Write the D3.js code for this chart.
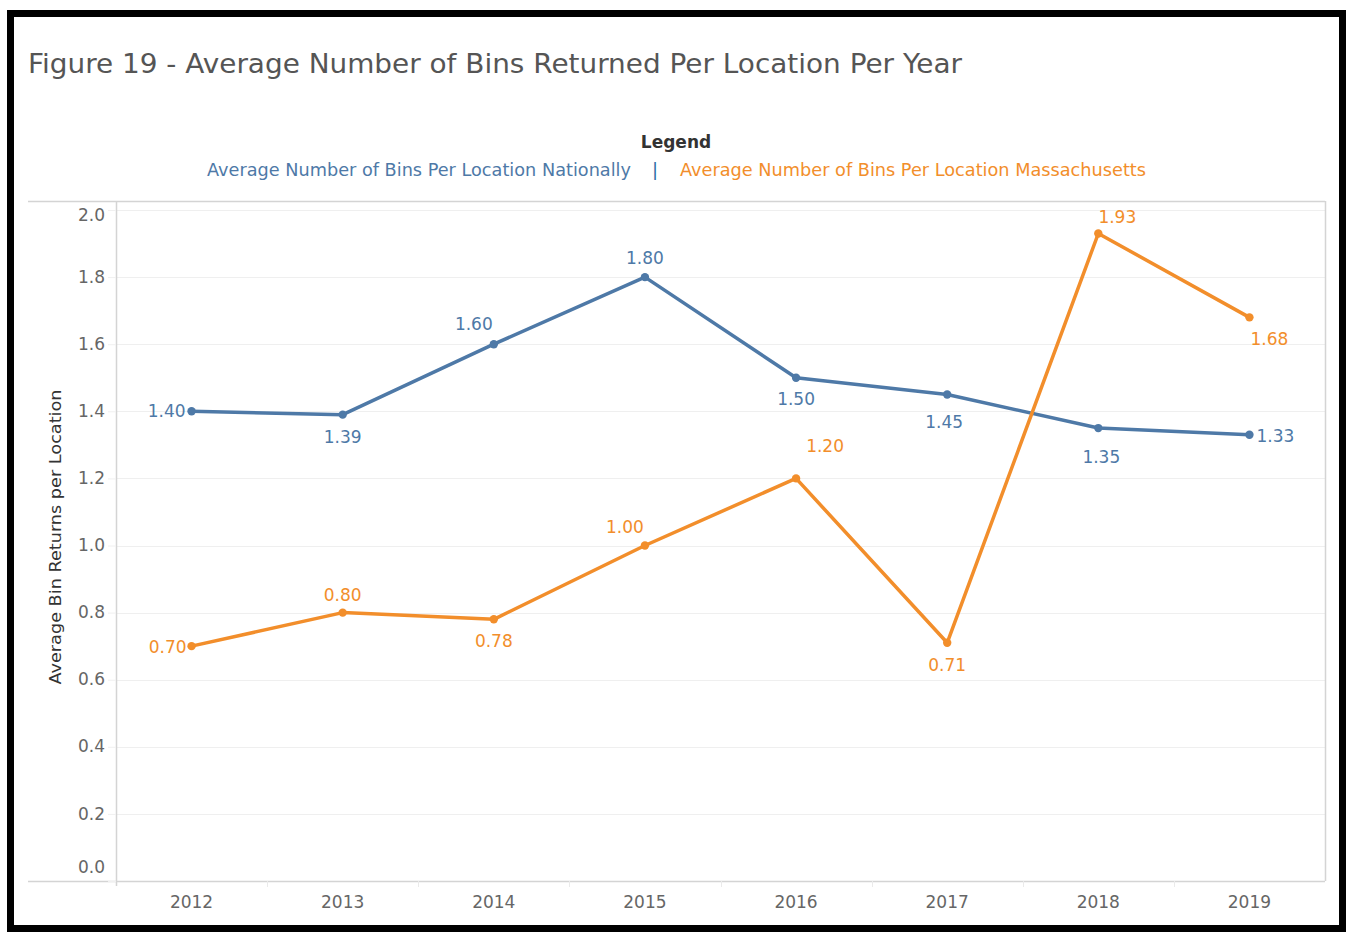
<!DOCTYPE html>
<html>
<head>
<meta charset="utf-8">
<script src="https://cdn.jsdelivr.net/npm/d3@7"></script>
<style>
	body { margin: 0; background: #fff; }
	svg text { font-family: "DejaVu Sans", "Noto Sans", sans-serif; }
</style>
</head>
<body>
<svg id="chart" width="1350" height="933"></svg>
<script>
// data
var years = ["2012", "2013", "2014", "2015", "2016", "2017", "2018", "2019"];
var national = [1.40, 1.39, 1.60, 1.80, 1.50, 1.45, 1.35, 1.33];
var massachusetts = [0.70, 0.80, 0.78, 1.00, 1.20, 0.71, 1.93, 1.68];
var yTicks = [0.0, 0.2, 0.4, 0.6, 0.8, 1.0, 1.2, 1.4, 1.6, 1.8, 2.0];
var seriesNames = ["Average Number of Bins Per Location Nationally", "Average Number of Bins Per Location Massachusetts"];

// where each value label sits relative to its point [dx, dy, anchor]
var nationalLabelPos = [[-6, 6, "end"], [0, 28, "middle"], [-20, -14, "middle"], [0, -13, "middle"],
						[0, 27, "middle"], [-3, 33, "middle"], [3, 35, "middle"], [7, 7, "start"]];
var maLabelPos = [[-5, 7, "end"], [0, -12, "middle"], [0, 28, "middle"], [-20, -13, "middle"],
				  [29, -26, "middle"], [0, 28, "middle"], [19, -10, "middle"], [20, 28, "middle"]];

var blue = "#4e79a7";
var orange = "#f28e2b";

var svg = d3.select("#chart");

// black frame round the picture
svg.append("rect").attr("x", 10.5).attr("y", 13.5).attr("width", 1332).attr("height", 915)
	.attr("fill", "none").attr("stroke", "#000").attr("stroke-width", 7);

// title
svg.append("text").attr("x", 28).attr("y", 73)
	.attr("font-size", 27).attr("fill", "#555")
	.attr("textLength", 934).attr("lengthAdjust", "spacingAndGlyphs")
	.text("Figure 19 - Average Number of Bins Returned Per Location Per Year");

// legend
svg.append("text").attr("x", 676).attr("y", 148).attr("text-anchor", "middle")
	.attr("font-size", 17).attr("font-weight", "bold").attr("fill", "#333").text("Legend");
svg.append("text").attr("x", 207).attr("y", 176)
	.attr("font-size", 17).attr("fill", blue)
	.attr("textLength", 424).attr("lengthAdjust", "spacingAndGlyphs").text(seriesNames[0]);
svg.append("text").attr("x", 655).attr("y", 176).attr("text-anchor", "middle")
	.attr("font-size", 18).attr("fill", "#2a6ea6").text("|");
svg.append("text").attr("x", 680).attr("y", 176)
	.attr("font-size", 17).attr("fill", orange)
	.attr("textLength", 466).attr("lengthAdjust", "spacingAndGlyphs").text(seriesNames[1]);

var plotLeft = 116, plotRight = 1325, plotTop = 201, plotBottom = 881;

var x = d3.scaleBand().domain(years).range([plotLeft, plotRight]);
var y = d3.scaleLinear().domain([0, 2]).range([plotBottom, 210]);

// gridlines
svg.append("g").selectAll("line").data(yTicks.slice(1)).enter().append("line")
	.attr("x1", plotLeft).attr("x2", plotRight)
	.attr("y1", function(d){ return Math.round(y(d)) + 0.5; })
	.attr("y2", function(d){ return Math.round(y(d)) + 0.5; })
	.attr("stroke", "#efefef").attr("stroke-width", 1);

// plot frame
var frame = svg.append("g").attr("stroke", "#d4d4d4").attr("stroke-width", 1.5);
frame.append("line").attr("x1", 28).attr("x2", plotRight).attr("y1", plotTop + 0.5).attr("y2", plotTop + 0.5);
frame.append("line").attr("x1", 28).attr("x2", plotRight).attr("y1", plotBottom + 0.5).attr("y2", plotBottom + 0.5);
frame.append("line").attr("x1", plotRight + 0.5).attr("x2", plotRight + 0.5).attr("y1", plotTop).attr("y2", plotBottom);
frame.append("line").attr("x1", plotLeft + 0.5).attr("x2", plotLeft + 0.5).attr("y1", plotTop).attr("y2", plotBottom + 5);

// y axis
var yAxis = svg.append("g").attr("transform", "translate(" + plotLeft + ",0)")
	.call(d3.axisLeft(y).tickValues(yTicks).tickFormat(d3.format(".1f")).tickSize(8).tickPadding(3));
yAxis.select(".domain").remove();
yAxis.selectAll(".tick line").attr("stroke", "#f0f0f0");
yAxis.selectAll("text").attr("font-size", 17).attr("fill", "#666").attr("dy", "0.3em");
// end labels are pulled inside the plot, as the original does
yAxis.selectAll(".tick").filter(function(d){ return d === 0; }).select("text").attr("y", -14);
yAxis.selectAll(".tick").filter(function(d){ return d === 2; }).select("text").attr("y", 5);

// x axis: ticks at the band edges, labels in the middle
var xg = svg.append("g");
xg.selectAll("line").data(years.slice(1)).enter().append("line")
	.attr("x1", function(d){ return Math.round(x(d)) + 0.5; })
	.attr("x2", function(d){ return Math.round(x(d)) + 0.5; })
	.attr("y1", plotBottom).attr("y2", plotBottom + 6)
	.attr("stroke", "#eaeaea");
xg.selectAll("text").data(years).enter().append("text")
	.attr("x", function(d){ return x(d) + x.bandwidth() / 2; })
	.attr("y", 908).attr("text-anchor", "middle")
	.attr("font-size", 17).attr("fill", "#666")
	.text(function(d){ return d; });

// y axis title
svg.append("text")
	.attr("transform", "translate(61,537) rotate(-90)")
	.attr("text-anchor", "middle").attr("font-size", 15).attr("fill", "#333")
	.attr("textLength", 295).attr("lengthAdjust", "spacingAndGlyphs")
	.text("Average Bin Returns per Location");

function drawSeries(values, color, labelPos){
	var pts = values.map(function(v, i){ return {year: years[i], value: v, pos: labelPos[i]}; });
	var line = d3.line()
		.x(function(d){ return x(d.year) + x.bandwidth() / 2; })
		.y(function(d){ return y(d.value); });
	var g = svg.append("g");
	g.append("path").datum(pts).attr("d", line)
		.attr("fill", "none").attr("stroke", color).attr("stroke-width", 3.5)
		.attr("stroke-linejoin", "round");
	g.selectAll("circle").data(pts).enter().append("circle")
		.attr("cx", function(d){ return x(d.year) + x.bandwidth() / 2; })
		.attr("cy", function(d){ return y(d.value); })
		.attr("r", 4.2).attr("fill", color);
	g.selectAll("text").data(pts).enter().append("text")
		.attr("x", function(d){ return x(d.year) + x.bandwidth() / 2 + d.pos[0]; })
		.attr("y", function(d){ return y(d.value) + d.pos[1]; })
		.attr("text-anchor", function(d){ return d.pos[2]; })
		.attr("font-size", 17).attr("fill", color)
		.text(function(d){ return d.value.toFixed(2); });
}

drawSeries(national, blue, nationalLabelPos);
drawSeries(massachusetts, orange, maLabelPos);
</script>
</body>
</html>
